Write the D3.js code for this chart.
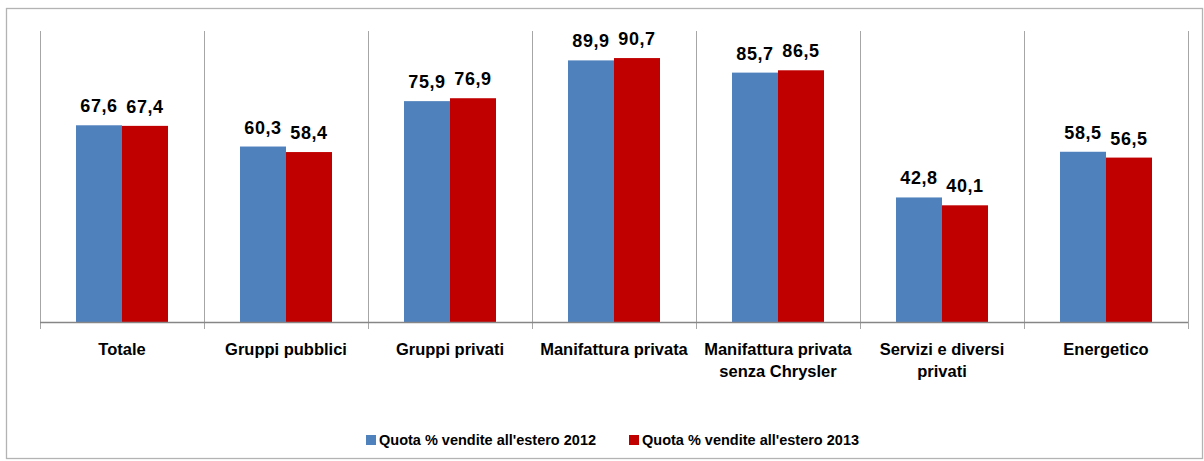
<!DOCTYPE html>
<html>
<head>
<meta charset="utf-8">
<script src="https://cdn.jsdelivr.net/npm/d3@7/dist/d3.min.js"></script>
<style>
  html, body { margin: 0; padding: 0; background: #fff; }
  svg { display: block; }
  text { font-family: "Liberation Sans", Arial, sans-serif; font-weight: bold; fill: #000; }
</style>
</head>
<body>
<svg id="chart" width="1204" height="461"></svg>
<script>
const categories = [
  ["Totale"],
  ["Gruppi pubblici"],
  ["Gruppi privati"],
  ["Manifattura privata"],
  ["Manifattura privata", "senza Chrysler"],
  ["Servizi e diversi", "privati"],
  ["Energetico"]
];
const seriesNames = ["Quota % vendite all'estero 2012", "Quota % vendite all'estero 2013"];
const values2012 = [67.6, 60.3, 75.9, 89.9, 85.7, 42.8, 58.5];
const values2013 = [67.4, 58.4, 76.9, 90.7, 86.5, 40.1, 56.5];
const colors = ["#4F81BD", "#C00000"];

const svg = d3.select("#chart");
const catKeys = categories.map(c => c.join(" "));
const seriesVals = [values2012, values2013];

// outer frame
svg.append("rect").attr("x", 6.5).attr("y", 8.5).attr("width", 1196).attr("height", 450)
  .attr("fill", "none").attr("stroke", "#b3b3b3").attr("stroke-width", 1.3);

const x0 = d3.scaleBand().domain(catKeys).range([40, 1188]).paddingInner(0).paddingOuter(0);
const x1 = d3.scaleBand().domain(seriesNames).range([36, 128]).padding(0);
const y = d3.scaleLinear().domain([0, 100]).range([322, 31]);

// vertical gridlines at category boundaries
const bounds = catKeys.map(k => x0(k)).concat([x0.range()[1]]);
svg.append("g").selectAll("line").data(bounds).join("line")
  .attr("x1", d => Math.round(d) + 0.5).attr("x2", d => Math.round(d) + 0.5)
  .attr("y1", y(100)).attr("y2", y(0) + 7)
  .attr("stroke", "#a6a6a6").attr("stroke-width", 1);

// bars
const groups = svg.append("g").selectAll("g").data(catKeys).join("g")
  .attr("transform", d => `translate(${x0(d)},0)`);
groups.each(function(k, i) {
  const g = d3.select(this);
  seriesNames.forEach((s, j) => {
    const v = seriesVals[j][i];
    g.append("rect").attr("x", x1(s)).attr("width", x1.bandwidth())
      .attr("y", y(v)).attr("height", y(0) - y(v)).attr("fill", colors[j]);
    g.append("text").attr("x", x1(s) + x1.bandwidth() / 2).attr("y", y(v) - 13)
      .attr("text-anchor", "middle").style("font-size", "18px").style("letter-spacing", "0.6px")
      .text(d3.format(".1f")(v).replace(".", ","));
  });
});

// baseline axis
svg.append("line").attr("x1", 40).attr("x2", 1188).attr("y1", y(0) + 0.5).attr("y2", y(0) + 0.5)
  .attr("stroke", "#868686").attr("stroke-width", 1.5);

// category labels
const labels = svg.append("g").selectAll("text").data(categories).join("text")
  .attr("text-anchor", "middle").style("font-size", "16.5px")
  .attr("transform", (d, i) => `translate(${x0(catKeys[i]) + x0.bandwidth() / 2},355)`);
labels.each(function(lines) {
  d3.select(this).selectAll("tspan").data(lines).join("tspan")
    .attr("x", 0).attr("y", (d, i) => i * 22).text(d => d);
});

// legend
const legendX = [366, 629];
const leg = svg.append("g").selectAll("g").data(seriesNames).join("g")
  .attr("transform", (d, i) => `translate(${legendX[i]},435)`);
leg.append("rect").attr("width", 10).attr("height", 10).attr("fill", (d, i) => colors[i]);
leg.append("text").attr("x", 13).attr("y", 10).style("font-size", "14.5px")
  .text(d => d);
</script>
</body>
</html>
